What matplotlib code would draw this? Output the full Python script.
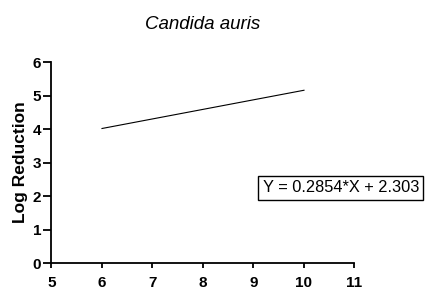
import numpy as np
import matplotlib
matplotlib.use("Agg")
import matplotlib.pyplot as plt

plt.rcParams['font.family'] = ['Liberation Sans', 'DejaVu Sans']

# fitted line: Y = slope*X + intercept, drawn between x_start and x_end
title = "Candida auris"
y_name = "Log Reduction"
slope = 0.2854
intercept = 2.303
x_fit = np.array([6, 10])
x_ticks = [5, 6, 7, 8, 9, 10, 11]
y_ticks = [0, 1, 2, 3, 4, 5, 6]

fig = plt.figure(figsize=(4.27, 2.91), dpi=100)
ax = fig.add_axes([0.1206, 0.0962, 0.7096, 0.6907])

ax.plot(x_fit, slope * x_fit + intercept, color='black', linewidth=0.8)

ax.set_xlim(5, 11)
ax.set_ylim(0, 6)
ax.set_xticks(x_ticks)
ax.set_yticks(y_ticks)
for s in ['top', 'right']:
    ax.spines[s].set_visible(False)
for s in ['left', 'bottom']:
    ax.spines[s].set_linewidth(1.3)
ax.tick_params(axis='y', length=6, width=1.3, labelsize=11, pad=1.5)
ax.tick_params(axis='x', length=3.5, width=1.3, labelsize=11, pad=6)
for lab in ax.get_xticklabels() + ax.get_yticklabels():
    lab.set_fontweight('bold')

ax.set_ylabel(y_name, fontsize=12.5, fontweight='bold', labelpad=3)
ax.set_title(title, fontsize=13.5, style='italic', pad=24)

ax.text(9.18, 2.24, f"Y = {slope}*X + {intercept}", fontsize=11.8,
        va='center', ha='left', clip_on=False,
        bbox=dict(boxstyle='square,pad=0.25', facecolor='white',
                  edgecolor='black', linewidth=1))

fig.savefig("out.png", dpi=100)
